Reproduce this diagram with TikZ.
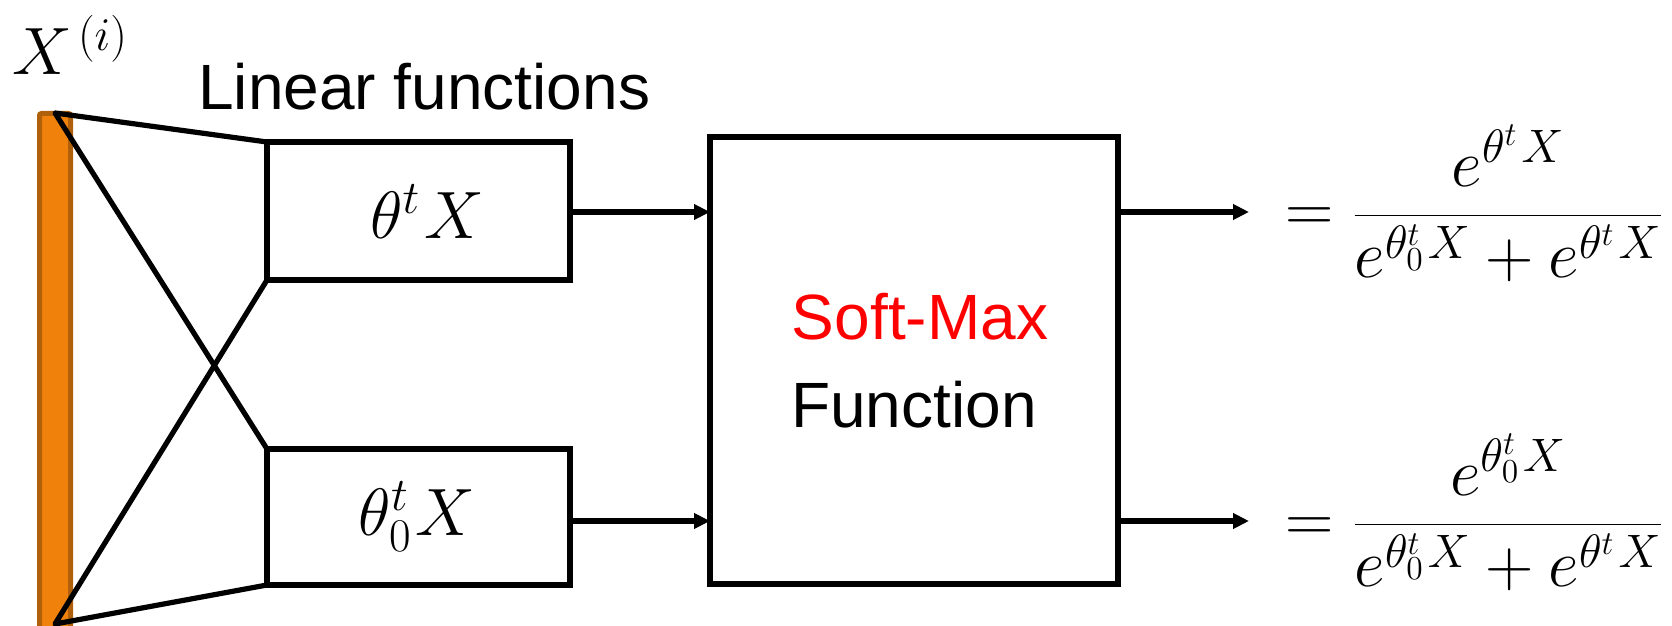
\RequirePackage{fix-cm}
\documentclass[tikz,border=0pt]{standalone}
\usepackage{fontspec}
\newfontfamily\arial{Liberation Sans}
\usetikzlibrary{arrows.meta}
\definecolor{barfill}{HTML}{F0820C}
\definecolor{barline}{HTML}{B0600A}
\tikzset{
  lw/.style={line width=2.6pt},
  boxstyle/.style={draw, lw, fill=white, inner sep=0pt, outer sep=0pt, anchor=north west},
  conn/.style={lw, -{Triangle[length=8pt,width=7.5pt]}},
  wire/.style={lw, line join=round},
  mathtxt/.style={inner sep=0pt, font=\fontsize{33.5}{40}\selectfont},
  sanstxt/.style={inner sep=0pt, font=\fontsize{32}{38}\selectfont\arial},
}
\newcommand{\tX}{\theta^t\kern2pt X}
\newcommand{\tzX}{\theta_0^t\kern2pt X}
\begin{document}
\begin{tikzpicture}[x=0.5pt, y=-0.5pt]
\useasboundingbox (0,0) rectangle (1672,626);
% orange bar
\draw[fill=barfill, draw=barline, line width=2.5pt, rounded corners=1pt] (39.5,113.5) rectangle (70.5,640);
% vertices
\coordinate (vt) at (55,113);
\coordinate (vb) at (55,624);
% boxes
\node[boxstyle, minimum width=151.5pt, minimum height=69pt] (ub) at (267,142) {};
\node[boxstyle, minimum width=151.5pt, minimum height=68pt] (lb) at (267,449) {};
\node[boxstyle, minimum width=204pt, minimum height=223.5pt] (big) at (710,137) {};
% wires
\draw[wire] (ub.north west) -- (vt) -- (lb.north west);
\draw[wire] (ub.south west) -- (vb) -- (lb.south west);
% arrows
\coordinate (ur2) at (1249,212);
\coordinate (lr2) at (1249,521);
\draw[conn] ([yshift=-0.5pt]ub.east) -- ([yshift=-0.5pt]ub.east -| big.west);
\draw[conn] ([yshift=-2pt]lb.east) -- ([yshift=-2pt]lb.east -| big.west);
\draw[conn] (ur2 -| big.east) -- (ur2);
\draw[conn] (lr2 -| big.east) -- (lr2);
% texts
\node[mathtxt, anchor=base west] (xi) at (12,75) {$X^{\kern3pt(i)}$};
\node[sanstxt, anchor=base west] (lin) at (198,110) {Linear functions};
\node[mathtxt, anchor=base] (t1) at (427,238) {$\tX$};
\node[mathtxt, anchor=base] (t0) at (417,535) {$\tzX$};
\node[sanstxt, anchor=base, text=red] (sm) at (920,339) {Soft-Max};
\node[sanstxt, anchor=base] (fn) at (914,427) {Function};
\node[mathtxt, anchor=base west] (f1) at (1285,232) {$\displaystyle = \frac{e^{\tX}}{e^{\tzX}+e^{\tX}}$};
\node[mathtxt, anchor=base west] (f2) at (1285,541) {$\displaystyle = \frac{e^{\tzX}}{e^{\tzX}+e^{\tX}}$};
\end{tikzpicture}
\end{document}
